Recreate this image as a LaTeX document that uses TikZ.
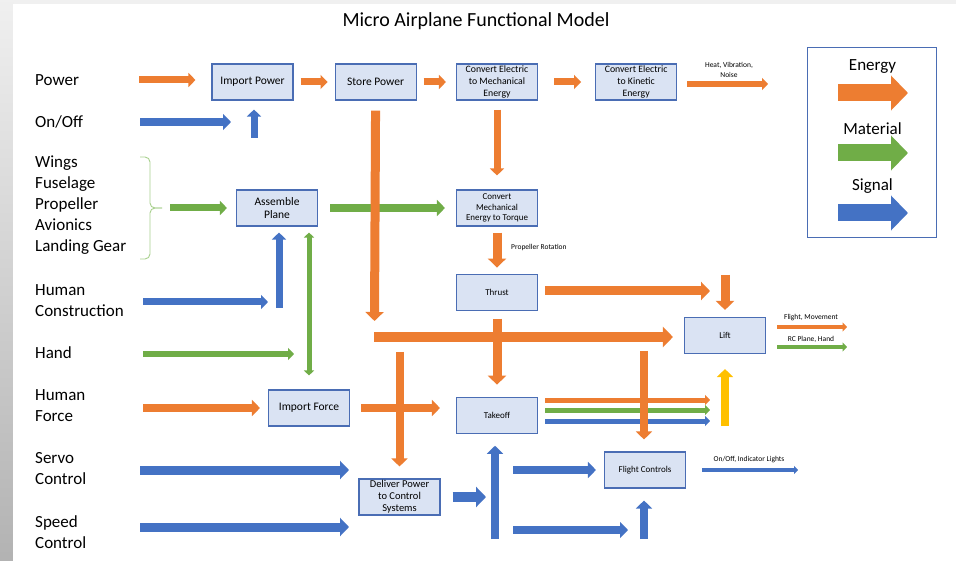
\documentclass[tikz,border=0pt]{standalone}
\usepackage{fontspec}
\setmainfont{Carlito}
\usetikzlibrary{arrows.meta, positioning}
\definecolor{en-orange}{HTML}{ED7D31}
\definecolor{mat-green}{HTML}{70AD47}
\definecolor{sig-blue}{HTML}{4472C4}
\definecolor{lift-yellow}{HTML}{FFC000}
\definecolor{box-fill}{HTML}{DAE3F3}
\definecolor{box-line}{HTML}{4A6DB4}
\definecolor{brace-green}{HTML}{A9D18E}
\definecolor{frame-gray}{HTML}{F0F0F0}

\begin{document}
\begin{tikzpicture}[x=1pt, y=-1pt,
    >={Triangle[width=0pt 2 0, length=0pt 1 0]},
    fbox/.style={draw=box-line, fill=box-fill, line width=1.1pt, minimum width=81pt, minimum height=36pt, inner sep=1pt, align=center},
    big/.style={font=\fontsize{11.5}{13.5}\selectfont},
    mid/.style={font=\fontsize{9.8}{12}\selectfont},
    small/.style={font=\fontsize{9}{10.5}\selectfont},
    lbl/.style={anchor=west, inner sep=0pt, align=left, font=\fontsize{17}{21}\selectfont},
    note/.style={inner sep=0pt, align=center, font=\fontsize{7.5}{9.5}\selectfont},
    energy/.style={->, draw=en-orange, line width=#1},
    energy/.default=8,
    material/.style={->, draw=mat-green, line width=#1},
    material/.default=8,
    signal/.style={->, draw=sig-blue, line width=#1},
    signal/.default=8,
    brace/.style={draw=brace-green, line width=0.9pt, rounded corners=5pt}
]
    % slide frame
    \useasboundingbox (0,0) rectangle (956,561);
    \fill[frame-gray] (0,0) rectangle (956,561);
    \shade[top color=gray!12, bottom color=gray!60] (0,0) rectangle (13,561);
    \fill[white] (13,4) rectangle (956,561);

    \node[font=\fontsize{20}{24}\selectfont] (title) at (476,21) {Micro Airplane Functional Model};

    % inputs
    \node[lbl] (power) at (35,80) {Power};
    \node[lbl] (onoff) at (35,122) {On/Off};
    \node[lbl] (parts) at (35,205) {Wings\\Fuselage\\Propeller\\Avionics\\Landing Gear};
    \node[lbl] (constr) at (35,301) {Human\\Construction};
    \node[lbl] (hand) at (35,353) {Hand};
    \node[lbl] (force) at (35,406) {Human\\Force};
    \node[lbl] (servo) at (35,469) {Servo\\Control};
    \node[lbl] (speed) at (35,532) {Speed\\Control};
    \draw[brace] (140,157) -| (150,208) -- (162,208);
    \draw[brace] (140,259) -| (150,208) -- (162,208);

    % functions
    \node[fbox, big] (imppow) at (252.5,82) {Import Power};
    \node[fbox, big, right=41pt of imppow] (storepow) {Store Power};
    \node[fbox, mid] (elecmech) at (497,82) {Convert Electric\\to Mechanical\\Energy};
    \node[fbox, mid, right=57pt of elecmech] (eleckin) {Convert Electric\\to Kinetic\\Energy};
    \node[fbox, big] (assemble) at (277,208) {Assemble\\Plane};
    \node[fbox, small] (torque) at (497,208) {Convert\\Mechanical\\Energy to Torque};
    \node[fbox, small, below=47pt of torque] (thrust) {Thrust};
    \node[fbox, small, below=86pt of thrust] (takeoff) {Takeoff};
    \node[fbox, small] (lift) at (725,335.5) {Lift};
    \node[fbox, big] (impforce) at (309,408) {Import Force};
    \node[fbox, small] (flightctl) at (645,470) {Flight Controls};
    \node[fbox, font=\fontsize{10.5}{12}\selectfont] (deliver) at (399.5,497) {Deliver Power\\to Control\\Systems};

    % free ends
    \coordinate (pwin) at (139,80);
    \coordinate (onin) at (140,122);
    \coordinate (onend) at (231,122);
    \coordinate (onup) at (254,138);
    \coordinate (heatout) at (768,84);
    \coordinate (storedn) at (374.5,321);
    \coordinate (liftfeed) at (374,337);
    \coordinate (thrustout) at (710,291);
    \coordinate (liftin) at (725,275);
    \coordinate (flyout) at (847,327);
    \coordinate (rcout) at (847,347);
    \coordinate (yup) at (725,426);
    \coordinate (tkE) at (710,400);
    \coordinate (tkM) at (710,410);
    \coordinate (tkS) at (710,421);
    \coordinate (fcin) at (644,351);
    \coordinate (hfin) at (143,408);
    \coordinate (handin) at (143,354);
    \coordinate (handend) at (294,354);
    \coordinate (hcin) at (143,302);
    \coordinate (hcend) at (268,302);
    \coordinate (hcup) at (279,308);
    \coordinate (partsin) at (170,208);
    \coordinate (dpin) at (399.5,352);
    \coordinate (svin) at (140,470);
    \coordinate (svend) at (349,470);
    \coordinate (spin) at (140,527);
    \coordinate (spend) at (349,527);
    \coordinate (dpout) at (486,497);
    \coordinate (tkup) at (495,539);
    \coordinate (fcleft) at (513,470);
    \coordinate (ctlin) at (513,530);
    \coordinate (ctlend) at (628,530);
    \coordinate (fcup) at (644,539);
    \coordinate (fcout) at (798,470);

    % top row
    \draw[energy=7, shorten >=16] (pwin) -- (pwin -| imppow.west);
    \draw[energy=7, shorten <=7, shorten >=7] (imppow) -- (storepow);
    \draw[energy=7, shorten <=7, shorten >=10] (storepow) -- (elecmech);
    \draw[energy=7, shorten <=16, shorten >=14] (elecmech) -- (eleckin);
    \draw[energy=6, shorten <=10] (heatout -| eleckin.east) -- (heatout);
    \node[note] (heatlbl) at (729,70) {Heat, Vibration,\\Noise};
    \draw[signal=8] (onin) -- (onend);
    \draw[signal=7, shorten >=9] (onup) -- (onup |- imppow.south);

    % material into the plane
    \draw[material=7, shorten >=9] (partsin) -- (partsin -| assemble.west);
    \draw[material=8, shorten <=12, shorten >=11] (assemble) -- (torque);
    \draw[signal=7] (hcin) -- (hcend);
    \draw[signal=7, shorten >=6] (hcup) -- (hcup |- assemble.south);
    \draw[material=6] (handin) -- (handend);
    \draw[material=5, <->, shorten <=14, shorten >=6] (impforce.north) -- (impforce.north |- assemble.south);

    % energy paths
    \draw[energy=10, shorten >=11] (liftfeed) -- (liftfeed -| lift.west);
    \draw[energy=9, shorten <=10] (storepow.south) -- (storedn);
    \draw[energy=7, shorten <=9, shorten >=14] (elecmech) -- (torque);
    \draw[energy=9, shorten <=6, shorten >=6] (torque) -- (thrust);
    \node[note, anchor=west] (proplbl) at (511,248) {Propeller Rotation};
    \draw[energy=9, shorten <=7] (thrustout -| thrust.east) -- (thrustout);
    \draw[energy=9, shorten >=7] (liftin) -- (liftin |- lift.north);
    \draw[energy=8, shorten >=8] (hfin) -- (hfin -| impforce.west);
    \draw[energy=8, shorten <=11, shorten >=16] (impforce) -- (impforce -| takeoff.west);
    \draw[energy=8, shorten >=12] (dpin) -- (dpin |- deliver.north);
    \draw[energy=9, shorten <=8, shorten >=12] (thrust) -- (takeoff);

    % takeoff to lift
    \draw[energy=5, shorten <=7] (tkE -| takeoff.east) -- (tkE);
    \draw[material=5, shorten <=7] (tkM -| takeoff.east) -- (tkM);
    \draw[signal=5, shorten <=7] (tkS -| takeoff.east) -- (tkS);
    \draw[energy=8, shorten >=12] (fcin) -- (fcin |- flightctl.north);
    \draw[->, draw=lift-yellow, line width=8, shorten >=15] (yup) -- (yup |- lift.south);

    % outputs of lift
    \draw[energy=4.5, shorten <=11] (flyout -| lift.east) -- (flyout);
    \node[note] (flightlbl) at (811,318) {Flight, Movement};
    \draw[material=4.5, shorten <=11] (rcout -| lift.east) -- (rcout);
    \node[note] (rclbl) at (811,339) {RC Plane, Hand};

    % control signals
    \draw[signal=9] (svin) -- (svend);
    \draw[signal=9] (spin) -- (spend);
    \draw[signal=10, shorten <=12] (dpout -| deliver.east) -- (dpout);
    \draw[signal=8, shorten >=12] (tkup) -- (tkup |- takeoff.south);
    \draw[signal=8, shorten >=8] (fcleft) -- (fcleft -| flightctl.west);
    \draw[signal=8] (ctlin) -- (ctlend);
    \draw[signal=8, shorten >=12] (fcup) -- (fcup |- flightctl.south);
    \draw[signal=4, shorten <=16] (fcout -| flightctl.east) -- (fcout);
    \node[note] (onofflbl) at (749,460) {On/Off, Indicator Lights};

    % legend
    \node[draw=box-line, line width=1pt, minimum width=129pt, minimum height=190pt] (legend) at (872,142.5) {};
    \node[font=\fontsize{17}{20}\selectfont] (legE) at (872.5,67) {Energy};
    \node[font=\fontsize{17}{20}\selectfont] (legM) at (872.5,129) {Material};
    \node[font=\fontsize{17}{20}\selectfont] (legS) at (872.5,186) {Signal};
    \coordinate (lgE) at (838,93);
    \coordinate (lgM) at (838,153);
    \coordinate (lgS) at (838,213);
    \draw[energy=17] (lgE) -- ++(70,0);
    \draw[material=17] (lgM) -- ++(70,0);
    \draw[signal=17] (lgS) -- ++(70,0);
\end{tikzpicture}
\end{document}
